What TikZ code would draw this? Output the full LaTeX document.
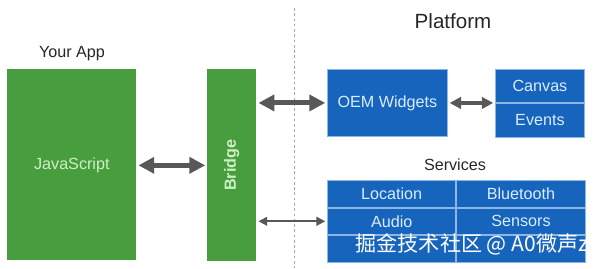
\documentclass[tikz,border=0pt]{standalone}
\usepackage{fontspec}
\setmainfont{Liberation Sans}
\newfontfamily\cjkfont{Noto Sans CJK SC}
\usetikzlibrary{arrows.meta, positioning}

\definecolor{appgreen}{RGB}{72,158,62}
\definecolor{platblue}{RGB}{22,100,188}
\definecolor{lightgreen}{RGB}{205,240,195}
\definecolor{lightblue}{RGB}{220,236,255}
\definecolor{arrowgray}{RGB}{88,88,88}

\begin{document}
\begin{tikzpicture}[
  x=0.02cm, y=-0.02cm,
  greenbox/.style={rectangle, fill=appgreen, text=lightgreen, inner sep=0pt, anchor=north west, font=\fontsize{9.2}{11}\selectfont},
  bluebox/.style={rectangle, fill=platblue, draw=lightblue!60!platblue, line width=0.5pt, text=lightblue, inner sep=0pt, font=\fontsize{9.2}{11}\selectfont},
  cell/.style={bluebox, minimum width=2.57cm, minimum height=0.533cm},
  title/.style={font=\fontsize{9.2}{11}\selectfont, text=black!85},
  bigarrow/.style={{Triangle[length=9pt, width=9pt]}-{Triangle[length=9pt, width=9pt]}, line width=2.8pt, draw=arrowgray},
  midarrow/.style={{Triangle[length=6.5pt, width=6.5pt]}-{Triangle[length=6.5pt, width=6.5pt]}, line width=2pt, draw=arrowgray},
  thinarrow/.style={{Triangle[length=5pt, width=5pt]}-{Triangle[length=5pt, width=5pt]}, line width=1pt, draw=arrowgray}
]
  \useasboundingbox (0,0) rectangle (596,268);

  % your app side
  \node[title] (yourapp) at (72,54) {Your App};
  \node[greenbox, minimum width=2.58cm, minimum height=3.82cm] (js) at (7,69) {JavaScript};
  \node[greenbox, minimum width=0.98cm, minimum height=3.84cm] (bridge) at (207,69) {};
  \node[text=lightgreen, rotate=90, font=\fontsize{9.2}{11}\selectfont\bfseries] (bridgelbl) at (bridge.center) {Bridge};

  % divider
  \draw[gray!70, dash pattern=on 1.5pt off 1.5pt, line width=0.5pt] (294,8) -- (294,268);

  % platform side
  \node[font=\fontsize{11.7}{14}\selectfont, text=black!85] (platform) at (453,21) {Platform};
  \node[bluebox, anchor=north west, minimum width=2.4cm, minimum height=1.34cm] (oem) at (327,69) {OEM Widgets};
  \node[bluebox, anchor=north west, minimum width=1.78cm, minimum height=0.66cm] (canvas) at (495,69) {Canvas};
  \node[bluebox, below=0pt of canvas, minimum width=1.78cm, minimum height=0.68cm] (events) {Events};

  \node[title] (services) at (455,165) {Services};
  \node[cell, anchor=north west] (loc) at (327,180) {Location};
  \node[cell, right=0pt of loc] (bt) {Bluetooth};
  \node[cell, below=0pt of loc] (audio) {Audio};
  \node[cell, below=0pt of bt] (sensors) {Sensors};
  \node[cell, below=0pt of audio] (svcA) {};
  \node[cell, below=0pt of sensors] (svcB) {};

  % connectors
  \draw[bigarrow, shorten <=1pt, shorten >=1pt] (js.east |- bridgelbl) -- (bridge.west |- bridgelbl);
  \draw[bigarrow, shorten <=1pt, shorten >=1pt] (bridge.east |- oem.west) -- (oem.west);
  \draw[midarrow, shorten <=1pt, shorten >=1pt] (oem.east) -- (oem.east -| canvas.west);
  \draw[thinarrow, shorten <=1pt, shorten >=1pt] (bridge.east |- audio.west) -- (audio.west);

  % watermark
  \node[text=white, font=\cjkfont\fontsize{12}{14}\selectfont] (mark) at (472,244) {掘金技术社区 @ A0微声z};
\end{tikzpicture}
\end{document}
